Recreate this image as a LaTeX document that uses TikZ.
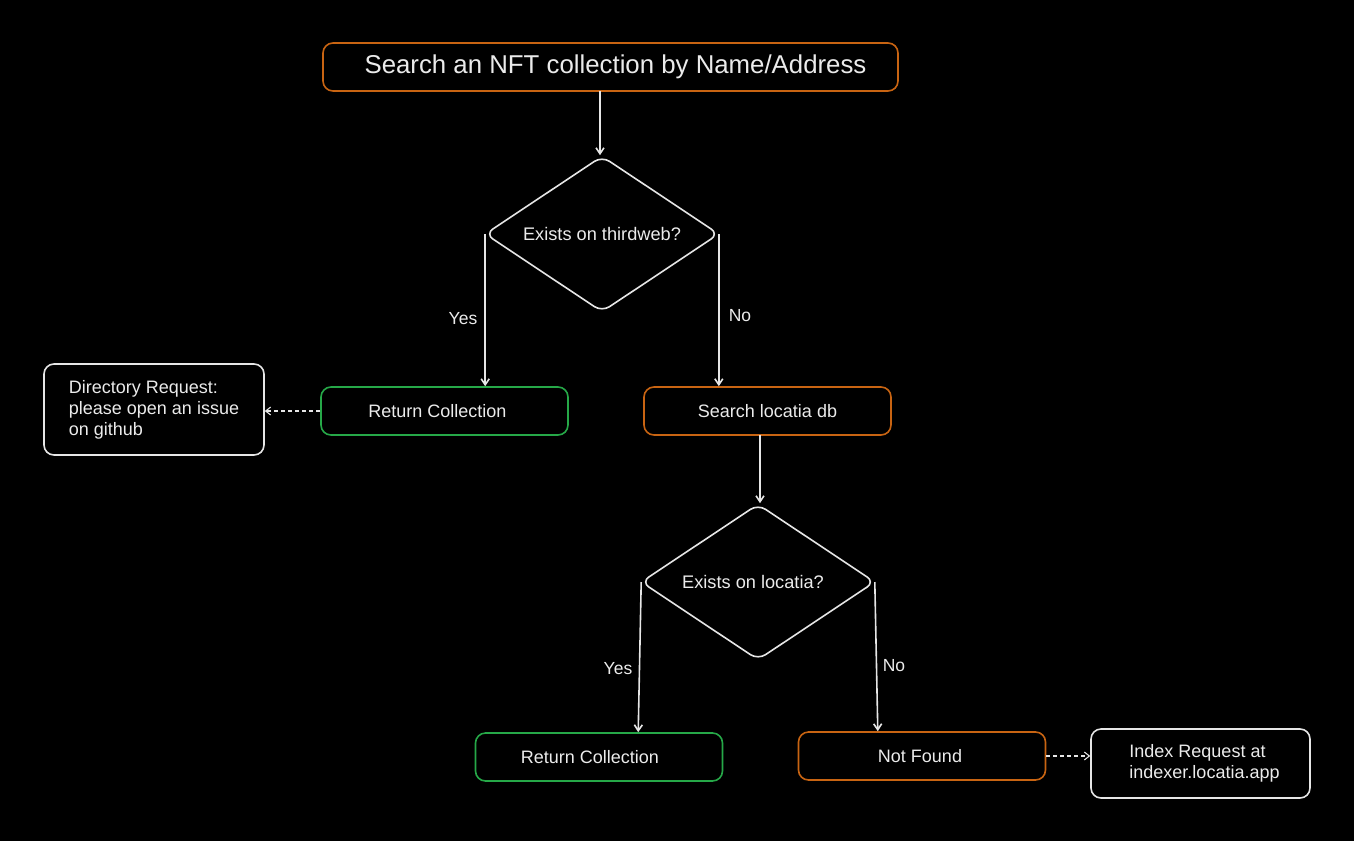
\documentclass[tikz,border=0pt]{standalone}
\usepackage{fontspec}
\setmainfont{Liberation Sans}
\usetikzlibrary{shapes.geometric,arrows.meta}
\definecolor{bgc}{RGB}{0,0,0}
\definecolor{orng}{RGB}{200,100,18}
\definecolor{grn}{RGB}{38,168,72}
\definecolor{wht}{RGB}{230,230,230}
\definecolor{txt}{RGB}{235,235,235}
\tikzset{
  box/.style={draw, line width=1.6pt, rounded corners=10pt, minimum width=247pt, minimum height=48pt, text=txt, font=\fontsize{18}{21}\selectfont, inner sep=0pt},
  obox/.style={box, draw=orng},
  gbox/.style={box, draw=grn},
  wbox/.style={box, draw=wht, align=left},
  dec/.style={draw=wht, line width=1.6pt, shape=diamond, shape aspect=1.5, rounded corners=9pt, minimum width=234pt, minimum height=156pt, text=txt, font=\fontsize{18.2}{21}\selectfont, inner sep=0pt},
  conn/.style={draw=wht, line width=1.6pt, -{Straight Barb[length=6pt,width=8pt]}},
  dconn/.style={draw=wht, line width=1.1pt, dash pattern=on 4pt off 3pt, -{Straight Barb[length=5pt,width=8pt]}},
  lbl/.style={text=txt, font=\fontsize{17.5}{21}\selectfont, inner sep=0pt}
}
\begin{document}
\begin{tikzpicture}[x=1pt,y=-1pt]
\fill[bgc] (0,0) rectangle (1354,841);
\useasboundingbox (0,0) rectangle (1354,841);

\node[obox, minimum width=575pt, font=\fontsize{25.8}{30}\selectfont] (top) at (610.5,67) {\hspace*{10pt}Search an NFT collection by Name/Address};
\node[dec] (d1) at (602,234) {Exists on thirdweb?};
\node[gbox] (rc1) at (444.5,411) {Return Collection\hspace*{14pt}};
\node[obox] (sl) at (767.5,411) {Search locatia db};
\node[wbox, minimum width=220pt, minimum height=91pt] (dir) at (154,409.5) {Directory Request:\\please open an issue\\on github};
\node[dec] (d2) at (758,582) {\hspace*{-10pt}Exists on locatia?};
\node[gbox] (rc2) at (599,757) {Return Collection\hspace*{18pt}};
\node[obox] (nf) at (922,756) {Not Found\hspace*{4pt}};
\node[wbox, minimum width=219pt, minimum height=69pt] (idx) at (1200.5,763.5) {\hspace*{8pt}Index Request at\\\hspace*{8pt}indexer.locatia.app};

\coordinate (t1) at (600,91);
\draw[conn] (t1) -- (t1 |- d1.north);
\draw[conn] ([xshift=1pt]d1.west) -- ([xshift=1pt]d1.west |- rc1.north);
\draw[conn] ([xshift=-1pt]d1.east) -- ([xshift=-1pt]d1.east |- sl.north);
\coordinate (t2) at (760,435);
\draw[conn] (t2) -- (t2 |- d2.north);
\draw[conn] ([xshift=1pt]d2.west) -- ([xshift=-2pt]d2.west |- rc2.north);
\draw[conn] ([xshift=-1pt]d2.east) -- ([xshift=2pt]d2.east |- nf.north);
\draw[dconn] (rc1.west) -- (dir.east |- rc1.west);
\draw[dconn] (nf.east) -- (idx.west |- nf.east);

\node[lbl] (y1) at (463,319) {Yes};
\node[lbl] (n1) at (740,316) {No};
\node[lbl] (y2) at (618,669) {Yes};
\node[lbl] (n2) at (894,666) {No};
\end{tikzpicture}
\end{document}
